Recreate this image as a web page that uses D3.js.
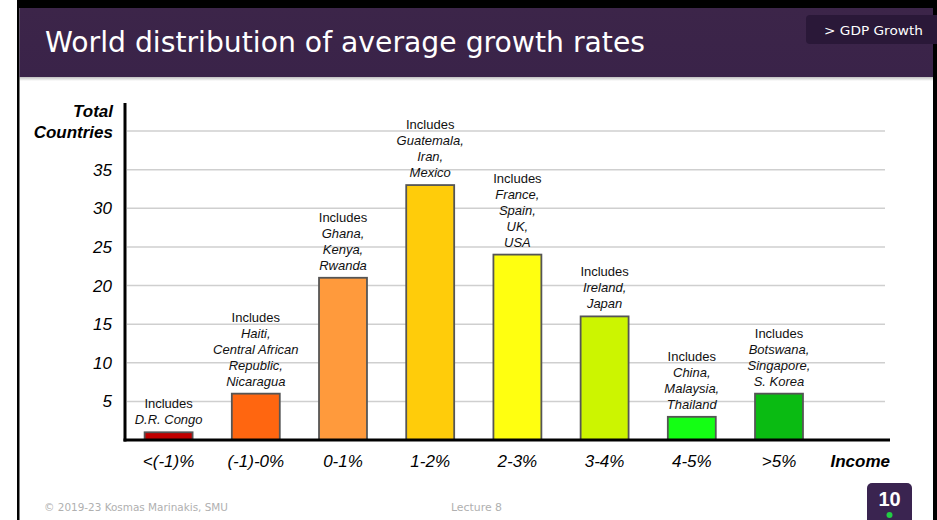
<!DOCTYPE html>
<html>
<head>
<meta charset="utf-8">
<script src="https://cdn.jsdelivr.net/npm/d3@7"></script>
<style>
  body { margin: 0; background: #fff; }
  svg { display: block; }
</style>
</head>
<body>
<svg id="chart"></svg>
<script>
// chart data
const categories = ["<(-1)%", "(-1)-0%", "0-1%", "1-2%", "2-3%", "3-4%", "4-5%", ">5%"];
const counts = [1, 6, 21, 33, 24, 16, 3, 6];
const examples = [
  ["D.R. Congo"],
  ["Haiti,", "Central African", "Republic,", "Nicaragua"],
  ["Ghana,", "Kenya,", "Rwanda"],
  ["Guatemala,", "Iran,", "Mexico"],
  ["France,", "Spain,", "UK,", "USA"],
  ["Ireland,", "Japan"],
  ["China,", "Malaysia,", "Thailand"],
  ["Botswana,", "Singapore,", "S. Korea"]
];
const yTickLabels = [5, 10, 15, 20, 25, 30, 35];
const gridValues = [5, 10, 15, 20, 25, 30, 35, 40];

const barColors = ["#c00000", "#ff6610", "#ff9a3c", "#ffcc0a", "#ffff10", "#ccf500", "#14ff14", "#0abb12"];

const W = 937, H = 520;
const svg = d3.select("#chart").attr("width", W).attr("height", H);
const font = "'Liberation Sans', Arial, sans-serif";

// slide frame + header
svg.append("rect").attr("x", 17).attr("y", 0).attr("width", W - 17).attr("height", 8).attr("fill", "#000");
svg.append("rect").attr("x", 17).attr("y", 0).attr("width", 2.5).attr("height", H).attr("fill", "#000");
svg.append("rect").attr("x", 933).attr("y", 0).attr("width", 4).attr("height", H).attr("fill", "#000");

const defs = svg.append("defs");
const hg = defs.append("linearGradient").attr("id", "hdr").attr("x1", 0).attr("y1", 0).attr("x2", 0).attr("y2", 1);
hg.append("stop").attr("offset", "0%").attr("stop-color", "#3c2549");
hg.append("stop").attr("offset", "100%").attr("stop-color", "#3a2349");
const sh = defs.append("linearGradient").attr("id", "hdrShadow").attr("x1", 0).attr("y1", 0).attr("x2", 0).attr("y2", 1);
sh.append("stop").attr("offset", "0%").attr("stop-color", "#000").attr("stop-opacity", 0.25);
sh.append("stop").attr("offset", "100%").attr("stop-color", "#000").attr("stop-opacity", 0);

svg.append("rect").attr("x", 19.5).attr("y", 8).attr("width", 913.5).attr("height", 69).attr("fill", "url(#hdr)");
svg.append("rect").attr("x", 19.5).attr("y", 77).attr("width", 913.5).attr("height", 4).attr("fill", "url(#hdrShadow)");

svg.append("text")
  .attr("x", 45).attr("y", 52)
  .attr("fill", "#fff")
  .style("font-family", "'DejaVu Sans', sans-serif")
  .style("font-size", "29px")
  .attr("textLength", 600).attr("lengthAdjust", "spacingAndGlyphs")
  .text("World distribution of average growth rates");

svg.append("rect").attr("x", 806).attr("y", 15).attr("width", 140).attr("height", 29).attr("rx", 4)
  .attr("fill", "#2a1838");
svg.append("text")
  .attr("x", 824).attr("y", 35)
  .attr("fill", "#fff")
  .style("font-family", "'DejaVu Sans', sans-serif")
  .style("font-size", "13px")
  .attr("textLength", 99).attr("lengthAdjust", "spacingAndGlyphs")
  .text("> GDP Growth");

// scales
const x0 = 125;
const step = 87.2;
const x = d3.scaleBand()
  .domain(categories)
  .range([x0, x0 + step * categories.length])
  .paddingInner(0.45)
  .paddingOuter(0.225);

const y = d3.scaleLinear().domain([0, 40]).range([440, 131]);

// gridlines
svg.append("g").selectAll("line")
  .data(gridValues)
  .join("line")
  .attr("x1", x0 + 2).attr("x2", 885)
  .attr("y1", d => y(d)).attr("y2", d => y(d))
  .attr("stroke", "#cfcfcf").attr("stroke-width", 1.5);

// y tick labels
svg.append("g").selectAll("text")
  .data(yTickLabels)
  .join("text")
  .attr("x", 112).attr("y", d => y(d) + 6)
  .attr("text-anchor", "end")
  .style("font-family", font).style("font-size", "17px").style("font-style", "italic")
  .attr("fill", "#000")
  .text(d => d);

svg.append("text")
  .attr("x", 113).attr("y", 117)
  .attr("text-anchor", "end")
  .style("font-family", font).style("font-size", "17px")
  .style("font-style", "italic").style("font-weight", "bold")
  .text("Total");
svg.append("text")
  .attr("x", 113).attr("y", 138)
  .attr("text-anchor", "end")
  .style("font-family", font).style("font-size", "17px")
  .style("font-style", "italic").style("font-weight", "bold")
  .text("Countries");

// bars
svg.append("g").selectAll("rect")
  .data(categories)
  .join("rect")
  .attr("x", d => x(d))
  .attr("width", x.bandwidth())
  .attr("y", (d, i) => y(counts[i]))
  .attr("height", (d, i) => y(0) - y(counts[i]))
  .attr("fill", (d, i) => barColors[i])
  .attr("stroke", "#555")
  .attr("stroke-width", 1.8);

// annotations
const ann = svg.append("g")
  .style("font-family", font).style("font-size", "13px").attr("fill", "#111");
categories.forEach((c, i) => {
  const lines = ["Includes"].concat(examples[i]);
  const cx = x(c) + x.bandwidth() / 2;
  const base = y(counts[i]) - 8;
  lines.forEach((t, j) => {
    ann.append("text")
      .attr("x", cx)
      .attr("y", base - (lines.length - 1 - j) * 16)
      .attr("text-anchor", "middle")
      .style("font-style", j === 0 ? "normal" : "italic")
      .text(t);
  });
});

// axes lines
svg.append("line").attr("x1", x0).attr("x2", x0).attr("y1", 103).attr("y2", y(0) + 1.5)
  .attr("stroke", "#000").attr("stroke-width", 3);
svg.append("line").attr("x1", x0 - 1.5).attr("x2", 890).attr("y1", y(0)).attr("y2", y(0))
  .attr("stroke", "#000").attr("stroke-width", 3);

// x labels
svg.append("g").selectAll("text")
  .data(categories)
  .join("text")
  .attr("x", d => x(d) + x.bandwidth() / 2)
  .attr("y", 467)
  .attr("text-anchor", "middle")
  .style("font-family", font).style("font-size", "17px").style("font-style", "italic")
  .text(d => d);

svg.append("text")
  .attr("x", 890).attr("y", 467)
  .attr("text-anchor", "end")
  .style("font-family", font).style("font-size", "17px")
  .style("font-style", "italic").style("font-weight", "bold")
  .text("Income");

// footer
svg.append("text")
  .attr("x", 44).attr("y", 511)
  .attr("fill", "#b0b0b0")
  .style("font-family", "'DejaVu Sans', sans-serif").style("font-size", "10.5px")
  .attr("textLength", 184).attr("lengthAdjust", "spacingAndGlyphs")
  .text("© 2019-23 Kosmas Marinakis, SMU");
svg.append("text")
  .attr("x", 451).attr("y", 511)
  .attr("fill", "#b0b0b0")
  .style("font-family", "'DejaVu Sans', sans-serif").style("font-size", "10.5px")
  .attr("textLength", 51).attr("lengthAdjust", "spacingAndGlyphs")
  .text("Lecture 8");

svg.append("rect").attr("x", 867).attr("y", 483).attr("width", 45).attr("height", 45).attr("rx", 5)
  .attr("fill", "#3a2450");
svg.append("text")
  .attr("x", 889.5).attr("y", 506)
  .attr("text-anchor", "middle")
  .attr("fill", "#fff")
  .style("font-family", font).style("font-size", "20px").style("font-weight", "bold")
  .text("10");
svg.append("circle").attr("cx", 889.5).attr("cy", 515).attr("r", 3).attr("fill", "#22cc44");
</script>
</body>
</html>
